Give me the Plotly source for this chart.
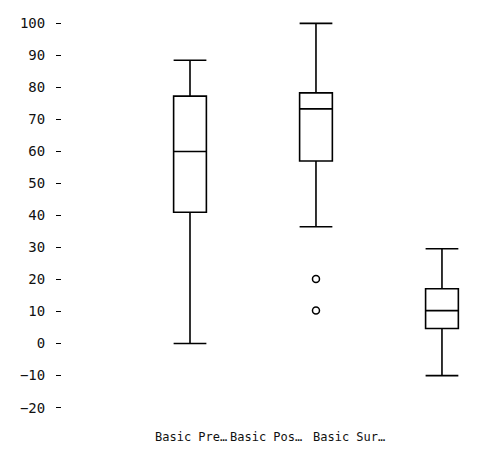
import plotly.graph_objects as go

categories = ["Basic Pre…", "Basic Pos…", "Basic Sur…"]
lower_whisker = [0, 36.5, -10]
q1_vals = [41, 57, 4.7]
median_vals = [60, 73.3, 10.3]
q3_vals = [77.3, 78.3, 17.1]
upper_whisker = [88.5, 100, 29.6]
outlier_cat = ["Basic Pos…", "Basic Pos…"]
outlier_vals = [20.2, 10.3]
y_ticks = list(range(-20, 101, 10))

fig = go.Figure()
fig.add_trace(go.Box(
    x=categories,
    q1=q1_vals, median=median_vals, q3=q3_vals,
    lowerfence=lower_whisker, upperfence=upper_whisker,
    width=0.26, whiskerwidth=1,
    line=dict(color="black", width=1.6),
    fillcolor="rgba(255,255,255,0)",
    boxpoints=False, showlegend=False,
))
fig.add_trace(go.Scatter(
    x=outlier_cat, y=outlier_vals, mode="markers",
    marker=dict(symbol="circle-open", size=7, color="black", line=dict(width=1.5)),
    showlegend=False,
))

label_x = [0.299, 0.473, 0.664]
for t, xp in zip(categories, label_x):
    fig.add_annotation(text=t, xref="paper", yref="paper", x=xp, y=-0.057,
                       showarrow=False, xanchor="center", yanchor="middle",
                       font=dict(family="DejaVu Sans Mono", size=12, color="#111"))

fig.update_layout(
    width=496, height=451,
    margin=dict(l=54, r=10, t=7, b=45),
    paper_bgcolor="white", plot_bgcolor="white",
    font=dict(family="DejaVu Sans Mono", size=12, color="#111"),
    xaxis=dict(type="category", categoryorder="array", categoryarray=categories,
               range=[-1.016, 2.413], showticklabels=False, showgrid=False,
               zeroline=False, showline=False, ticks=""),
    yaxis=dict(range=[-22, 102], tickvals=y_ticks, showgrid=False, zeroline=False,
               showline=False, ticks="outside", ticklen=5, tickcolor="black",
               tickwidth=1, ticklabelstandoff=8,
               tickfont=dict(family="DejaVu Sans Mono", size=14, color="#111")),
)
fig.write_html("out.html")
